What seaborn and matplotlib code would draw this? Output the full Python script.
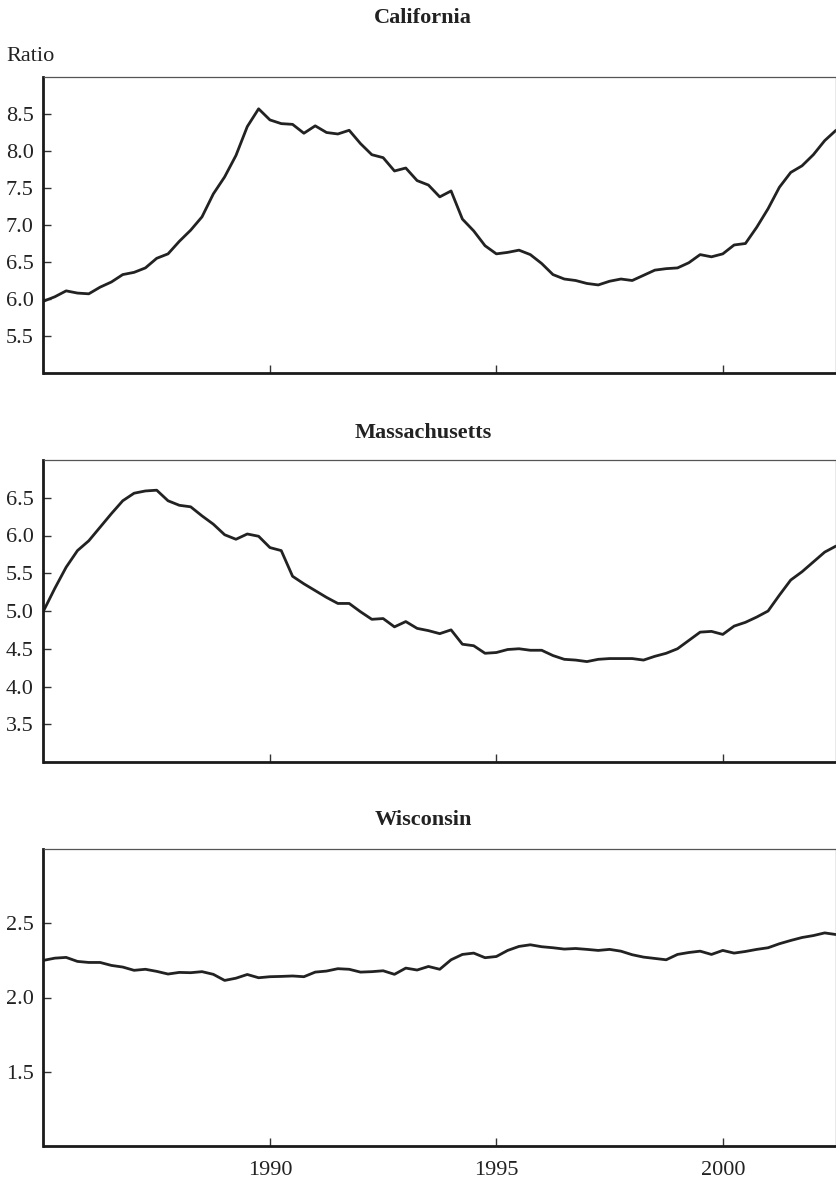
import numpy as np
import pandas as pd
import matplotlib
matplotlib.use("Agg")
import matplotlib.pyplot as plt
import seaborn as sns

# quarterly observations, 1985Q1 .. 2002Q3
quarters = np.arange(1985, 2002.51, 0.25)

california = [5.97, 6.03, 6.11, 6.08, 6.07, 6.16, 6.23, 6.33, 6.36, 6.42,
              6.55, 6.61, 6.78, 6.93, 7.11, 7.42, 7.65, 7.94, 8.33, 8.57,
              8.42, 8.37, 8.36, 8.24, 8.34, 8.25, 8.23, 8.28, 8.10, 7.95,
              7.91, 7.73, 7.77, 7.60, 7.54, 7.38, 7.46, 7.08, 6.92, 6.72,
              6.61, 6.63, 6.66, 6.60, 6.48, 6.33, 6.27, 6.25, 6.21, 6.19,
              6.24, 6.27, 6.25, 6.32, 6.39, 6.41, 6.42, 6.49, 6.60, 6.57,
              6.61, 6.73, 6.75, 6.97, 7.22, 7.51, 7.71, 7.80, 7.95, 8.14, 8.28]

massachusetts = [5.00, 5.30, 5.58, 5.80, 5.93, 6.11, 6.29, 6.46, 6.56, 6.59,
                 6.60, 6.46, 6.40, 6.38, 6.26, 6.15, 6.01, 5.95, 6.02, 5.99,
                 5.84, 5.80, 5.46, 5.36, 5.27, 5.18, 5.10, 5.10, 4.99, 4.89,
                 4.90, 4.79, 4.86, 4.77, 4.74, 4.70, 4.75, 4.56, 4.54, 4.44,
                 4.45, 4.49, 4.50, 4.48, 4.48, 4.41, 4.36, 4.35, 4.33, 4.36,
                 4.37, 4.37, 4.37, 4.35, 4.40, 4.44, 4.50, 4.61, 4.72, 4.73,
                 4.69, 4.80, 4.85, 4.92, 5.00, 5.21, 5.41, 5.52, 5.65, 5.78, 5.86]

wisconsin = [2.250, 2.265, 2.270, 2.243, 2.236, 2.236, 2.216, 2.205, 2.183, 2.190,
             2.176, 2.158, 2.169, 2.167, 2.174, 2.156, 2.115, 2.130, 2.155, 2.133,
             2.140, 2.142, 2.145, 2.140, 2.171, 2.178, 2.194, 2.190, 2.171, 2.174,
             2.180, 2.156, 2.198, 2.185, 2.209, 2.190, 2.254, 2.290, 2.299, 2.268,
             2.276, 2.317, 2.344, 2.355, 2.342, 2.335, 2.326, 2.330, 2.324, 2.317,
             2.324, 2.312, 2.288, 2.272, 2.263, 2.254, 2.290, 2.303, 2.312, 2.290,
             2.317, 2.299, 2.310, 2.324, 2.335, 2.362, 2.384, 2.404, 2.417, 2.435, 2.424]

states = ["California", "Massachusetts", "Wisconsin"]
series = [california, massachusetts, wisconsin]
ylims = [(5.0, 9.0), (3.0, 7.0), (1.0, 3.0)]
yticks = [[5.5, 6.0, 6.5, 7.0, 7.5, 8.0, 8.5],
          [3.5, 4.0, 4.5, 5.0, 5.5, 6.0, 6.5],
          [1.5, 2.0, 2.5]]
xticks = [1990, 1995, 2000]

sns.set_theme(style="ticks")
plt.rcParams["font.family"] = ["Liberation Serif", "DejaVu Serif"]
plt.rcParams["text.color"] = "#222222"

W, H = 837, 1185
fig = plt.figure(figsize=(W / 100, H / 100), dpi=100)

# panel boxes in pixels: (top, bottom)
boxes = [(77, 373), (460, 762), (849, 1146)]
title_base = [23, 438, 825]
left_px, right_px = 43.5, 836

for k in range(3):
    top, bot = boxes[k]
    ax = fig.add_axes([left_px / W, 1 - bot / H, (right_px - left_px) / W, (bot - top) / H])
    df = pd.DataFrame({"year": quarters, "ratio": series[k]})
    sns.lineplot(data=df, x="year", y="ratio", ax=ax, color="#222222", linewidth=2.0)
    ax.set_xlim(1985, 2002.5)
    ax.set_ylim(*ylims[k])
    ax.set_yticks(yticks[k])
    ax.set_yticklabels([f"{t:.1f}" for t in yticks[k]])
    ax.set_xticks(xticks)
    if k == 2:
        ax.set_xticklabels([str(t) for t in xticks])
    else:
        ax.set_xticklabels([])
    ax.set_xlabel("")
    ax.set_ylabel("")
    ax.tick_params(axis="both", direction="in", length=6, width=1.0,
                   color="#333333", labelsize=16, labelcolor="#222222")
    ax.tick_params(axis="y", pad=7)
    ax.tick_params(axis="x", pad=11)
    for side in ["left", "bottom"]:
        ax.spines[side].set_linewidth(2.0)
        ax.spines[side].set_color("#1a1a1a")
    for side in ["top", "right"]:
        ax.spines[side].set_visible(True)
        ax.spines[side].set_linewidth(0.9)
        ax.spines[side].set_color("#555555")
    fig.text(423 / W, 1 - title_base[k] / H, states[k], ha="center", va="baseline",
             fontsize=16, fontweight="bold")

fig.text(6 / W, 1 - 61 / H, "Ratio", ha="left", va="baseline", fontsize=16)

fig.savefig("out.png", dpi=100)
